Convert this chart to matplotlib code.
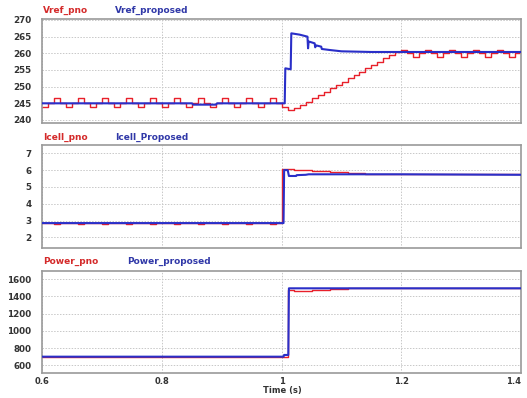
import matplotlib
matplotlib.use("Agg")
import matplotlib.pyplot as plt
import numpy as np

RED = "#e8202a"
BLUE = "#2a2fc8"

# common time grid for the P&O (stepped) signals, 10 ms steps
t = np.round(np.arange(0.60, 1.405, 0.01), 3)

# Vref_pno (V), one value per 10 ms
vref_pno = [
    244, 245, 246.5, 245, 244, 245, 246.5, 245, 244, 245,
    246.5, 245, 244, 245, 246.5, 245, 244, 245, 246.5, 245,
    244, 245, 246.5, 245, 244, 245, 246.5, 245, 244, 245,
    246.5, 245, 244, 245, 246.5, 245, 244, 245, 246.5, 245,
    244, 243, 243.5, 244.5, 245.5, 246.5, 247.5, 248.5, 249.5, 250.5,
    251.5, 252.5, 253.5, 254.5, 255.5, 256.5, 257.5, 258.5, 259.5, 260.5,
    261, 260, 259, 260, 261, 260, 259, 260, 261, 260,
    259, 260, 261, 260, 259, 260, 261, 260, 259, 260, 261,
]

# Vref_proposed (V)
vref_prop_t = [0.600, 0.850, 0.852, 0.890, 0.892, 1.005, 1.006, 1.015, 1.016,
               1.030, 1.043, 1.044, 1.045, 1.046, 1.055, 1.056, 1.057, 1.066,
               1.067, 1.080, 1.100, 1.150, 1.400]
vref_prop = [245.0, 245.0, 244.6, 244.6, 245.0, 245.0, 255.5, 255.2, 266.0,
             265.6, 265.0, 261.5, 263.5, 263.5, 263.0, 261.8, 262.4, 262.0,
             261.3, 261.0, 260.6, 260.4, 260.4]

# Icell_pno (A), one value per 10 ms
icell_pno = [
    2.85, 2.85, 2.78, 2.85, 2.85, 2.85, 2.78, 2.85, 2.85, 2.85,
    2.78, 2.85, 2.85, 2.85, 2.78, 2.85, 2.85, 2.85, 2.78, 2.85,
    2.85, 2.85, 2.78, 2.85, 2.85, 2.85, 2.78, 2.85, 2.85, 2.85,
    2.78, 2.85, 2.85, 2.85, 2.78, 2.85, 2.85, 2.85, 2.78, 2.85,
    6.05, 6.05, 6.03, 6.01, 5.99, 5.97, 5.95, 5.93, 5.91, 5.89,
    5.87, 5.85, 5.83, 5.81, 5.79, 5.77, 5.76, 5.75, 5.75, 5.75,
    5.76, 5.75, 5.75, 5.75, 5.76, 5.75, 5.75, 5.75, 5.76, 5.75,
    5.75, 5.75, 5.76, 5.75, 5.75, 5.75, 5.76, 5.75, 5.75, 5.75, 5.76,
]

# Icell_Proposed (A)
icell_prop_t = [0.600, 1.003, 1.004, 1.010, 1.012, 1.024, 1.025, 1.040, 1.045,
                1.200, 1.400]
icell_prop = [2.85, 2.85, 6.00, 6.00, 5.65, 5.65, 5.70, 5.72, 5.75, 5.75, 5.72]

# Power_pno (W), one value per 10 ms
power_pno = [700] * 41 + [
    1475, 1465, 1460, 1465, 1470, 1475, 1480, 1485, 1490,
    1492, 1494, 1495, 1495, 1495, 1495, 1495, 1495, 1495, 1495, 1495,
    1495, 1495, 1495, 1495, 1495, 1495, 1495, 1495, 1495, 1495,
    1495, 1495, 1495, 1495, 1495, 1495, 1495, 1495, 1495, 1495,
]

# Power_proposed (W)
power_prop_t = [0.600, 1.003, 1.004, 1.011, 1.012, 1.400]
power_prop = [700, 700, 720, 720, 1495, 1495]

fig = plt.figure(figsize=(5.27, 3.98), dpi=100)

left, width = 0.0806, 0.908
ax1 = fig.add_axes([left, 0.6910, width, 0.2613])
ax2 = fig.add_axes([left, 0.3761, width, 0.2595])
ax3 = fig.add_axes([left, 0.0621, width, 0.2578])

panels = [
    (ax1, vref_pno, vref_prop_t, vref_prop, (239.1, 270.3), np.arange(240, 271, 5)),
    (ax2, icell_pno, icell_prop_t, icell_prop, (1.35, 7.49), np.arange(2, 8, 1)),
    (ax3, power_pno, power_prop_t, power_prop, (507, 1700), np.arange(600, 1601, 200)),
]

for ax, red_y, blue_t, blue_y, ylim, yticks in panels:
    ax.plot(blue_t, blue_y, color=BLUE, lw=1.5, zorder=3)
    ax.plot(t, red_y, color=RED, lw=1.0, drawstyle="steps-post", zorder=2)
    ax.set_xlim(0.6, 1.4)
    ax.set_ylim(*ylim)
    ax.set_yticks(yticks)
    ax.set_xticks([0.6, 0.8, 1.0, 1.2, 1.4])
    ax.grid(True, color="#c8c8c8", lw=0.7, ls=(0, (1.5, 1.5)))
    ax.tick_params(length=0, labelsize=6.3, colors="#333333", pad=8)
    for lab in ax.get_yticklabels():
        lab.set_fontweight("bold")
    for s in ax.spines.values():
        s.set_color("#9a9a9a")
        s.set_linewidth(1.2)

ax1.tick_params(labelbottom=False)
ax2.tick_params(labelbottom=False)
ax3.set_xticklabels(["0.6", "0.8", "1", "1.2", "1.4"], fontweight="bold")
ax3.tick_params(axis="x", pad=2.5, labelsize=6)
ax3.get_xticklabels()[-1].set_horizontalalignment("right")
fig.text(282 / 527, 1 - 391 / 398, "Time (s)", fontsize=6, fontweight="bold",
         color="#333333", ha="center", va="center")

# series names above each panel
names = [
    ("Vref_pno", "Vref_proposed", 10, 115),
    ("Icell_pno", "Icell_Proposed", 137, 115),
    ("Power_pno", "Power_proposed", 261, 127),
]
for red_name, blue_name, ypix, xblue in names:
    yf = 1 - ypix / 398
    fig.text(43 / 527, yf, red_name, color="#d42a2a", fontsize=6.5,
             fontweight="bold", va="center")
    fig.text(xblue / 527, yf, blue_name, color="#3038a8", fontsize=6.5,
             fontweight="bold", va="center")

fig.savefig("out.png", dpi=100)
